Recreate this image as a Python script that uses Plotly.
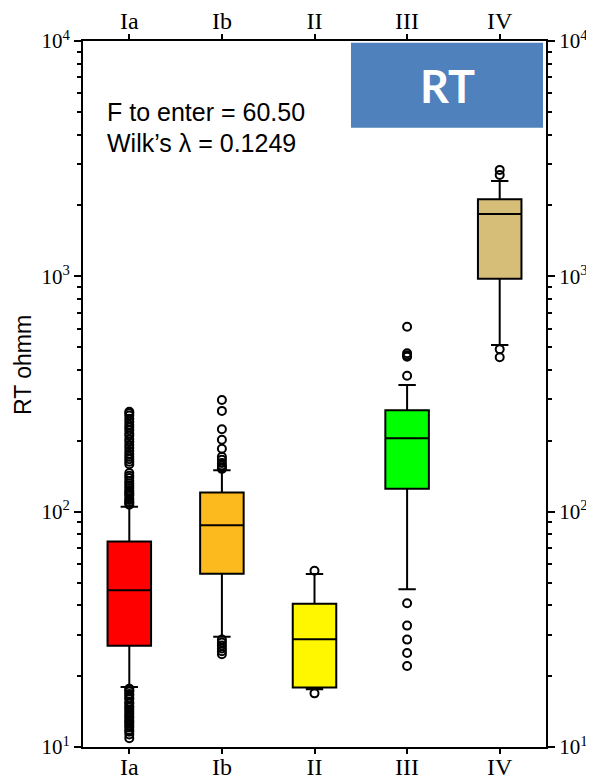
import plotly.graph_objects as go

categories = ["Ia", "Ib", "II", "III", "IV"]
colors = ["#FF0000", "#FDBA1E", "#FFF700", "#00FF00", "#D7BE78"]
q1 = [26.9, 54.5, 17.9, 125, 977]
median = [46.4, 87.5, 28.7, 205, 1841]
q3 = [74.6, 120.5, 40.6, 270, 2127]
lower_whisker = [18.0, 29.4, 17.6, 46.8, 511]
upper_whisker = [105, 150, 54.3, 345, 2543]

outliers_Ia = [266, 262, 256, 248, 241, 234, 228, 222, 215, 210, 203, 198, 192, 187,
               181, 176, 171, 167, 163, 159, 146, 142, 139, 135, 132, 129, 126, 123,
               121, 119, 117, 114, 112, 110, 109, 107,
               17.7, 17.4, 17.2, 16.8, 16.6, 16.2, 16.0, 15.5, 15.3, 14.9, 14.7, 14.4,
               14.1, 13.8, 13.5, 13.3, 13.0, 12.8, 12.6, 12.3, 12.1, 11.8, 11.6, 11.3, 10.9]
outliers_Ib = [298, 268, 224, 202, 185, 171, 166, 161, 157, 154, 152,
               28.6, 27.8, 27.0, 26.2, 25.5, 24.8]
outliers_II = [56.1, 16.9]
outliers_III = [611, 471, 462, 455, 378, 40.8, 32.8, 28.6, 25.1, 22.1]
outliers_IV = [2833, 2697, 490, 453]
outliers = [outliers_Ia, outliers_Ib, outliers_II, outliers_III, outliers_IV]

decades = [10, 100, 1000, 10000]
decade_labels = ["10<sup>1</sup>", "10<sup>2</sup>", "10<sup>3</sup>", "10<sup>4</sup>"]
minor_mult = [2, 3, 4, 5, 6, 7, 8, 9]
minor_vals = [d * m for d in decades[:-1] for m in minor_mult]

f_text = "F to enter = 60.50"
w_text = "Wilk’s λ = 0.1249"
badge_text = "RT"
y_title = "RT ohmm"

fig = go.Figure()
for i, c in enumerate(categories):
    fig.add_trace(go.Box(
        x=[i], q1=[q1[i]], median=[median[i]], q3=[q3[i]],
        lowerfence=[lower_whisker[i]], upperfence=[upper_whisker[i]],
        fillcolor=colors[i], line=dict(color="black", width=2),
        width=0.47, whiskerwidth=0.4, boxpoints=False, showlegend=False,
        xaxis="x", yaxis="y",
    ))
    fig.add_trace(go.Scatter(
        x=[i] * len(outliers[i]), y=outliers[i], mode="markers",
        marker=dict(symbol="circle-open", size=8, color="black", line=dict(width=2)),
        showlegend=False, hoverinfo="y",
    ))

# invisible trace for secondary axes
fig.add_trace(go.Scatter(x=[0], y=[100], xaxis="x2", yaxis="y2", mode="markers",
                         marker=dict(opacity=0), showlegend=False, hoverinfo="skip"))

serif = "Liberation Serif, Times New Roman, serif"
sans = "Liberation Sans, Arial, sans-serif"

xcommon = dict(range=[-0.5, 4.5], tickmode="array", tickvals=list(range(5)),
               ticktext=categories, ticks="outside", ticklen=5, tickwidth=2,
               tickcolor="black", showline=True, linewidth=2, linecolor="black",
               showgrid=False, zeroline=False, automargin=False,
               tickfont=dict(family=serif, size=24, color="black"))
ycommon = dict(type="log", range=[1, 4], tickmode="array", tickvals=decades,
               ticktext=decade_labels, ticks="outside", ticklen=7, tickwidth=2,
               tickcolor="black", showline=True, linewidth=2, linecolor="black",
               showgrid=False, zeroline=False, automargin=False,
               tickfont=dict(family=serif, size=21, color="black"),
               minor=dict(tickmode="array", tickvals=minor_vals, ticks="outside",
                          ticklen=4, tickwidth=2, tickcolor="black", showgrid=False))

# The page body adds an 8px margin, so the figure is 8px smaller and margins shifted.
fig.update_layout(
    width=586, height=771,
    margin=dict(l=75, r=48, t=33, b=32, autoexpand=False),
    paper_bgcolor="white", plot_bgcolor="white",
    xaxis=dict(**xcommon, side="bottom", ticklabelstandoff=-8),
    xaxis2=dict(**xcommon, side="top", overlaying="x", anchor="y", ticklabelstandoff=-5),
    yaxis=dict(**ycommon, side="left"),
    yaxis2=dict(**ycommon, side="right", overlaying="y", anchor="x"),
    shapes=[dict(type="rect", xref="paper", yref="paper",
                 x0=(351 - 83) / 463, x1=(543 - 83) / 463,
                 y0=(747 - 127.7) / 706, y1=(747 - 42.7) / 706,
                 fillcolor="#4F81BD", line=dict(width=0), layer="above")],
    annotations=[
        dict(text=badge_text, xref="paper", yref="paper",
             x=(447 - 83) / 463, y=(747 - 86) / 706, showarrow=False,
             xanchor="center", yanchor="middle",
             font=dict(family="Lato, Open Sans, sans-serif", size=45, color="white", weight="bold")),
        dict(text=f_text, xref="paper", yref="paper",
             x=(105 - 83) / 463, y=(747 - 112.5) / 706, showarrow=False,
             xanchor="left", yanchor="middle",
             font=dict(family=sans, size=25, color="black")),
        dict(text=w_text, xref="paper", yref="paper",
             x=(105 - 83) / 463, y=(747 - 143) / 706, showarrow=False,
             xanchor="left", yanchor="middle",
             font=dict(family=sans, size=25, color="black")),
        dict(text=y_title, xref="paper", yref="paper",
             x=(23 - 83) / 463, y=(747 - 365) / 706, showarrow=False,
             xanchor="center", yanchor="middle", textangle=-90,
             font=dict(family=sans, size=23, color="black")),
    ],
)

fig.write_html("out.html")
